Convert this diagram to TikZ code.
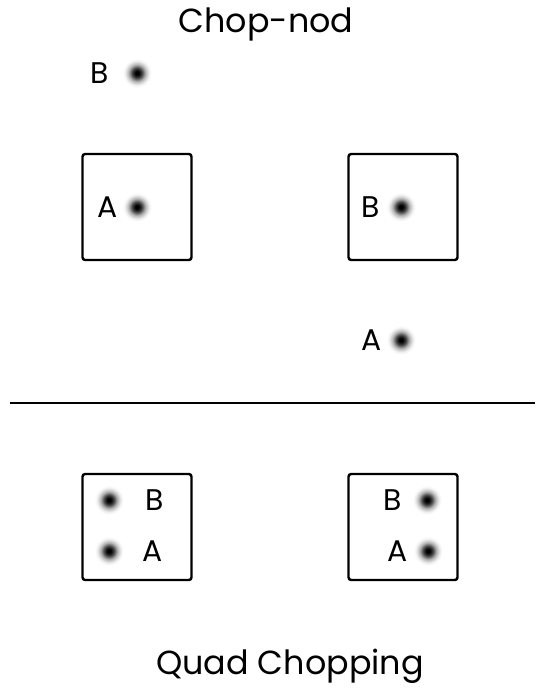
\documentclass[tikz,border=0pt]{standalone}
\usepackage{fontspec}
\setmainfont{Poppins}
\usetikzlibrary{positioning}
\pgfdeclareradialshading{blob}{\pgfpoint{0bp}{0bp}}{color(0bp)=(black); color(3bp)=(black); color(8bp)=(black!75); color(14bp)=(black!30); color(20bp)=(black!6); color(24bp)=(white); color(25bp)=(white)}
\tikzset{
  chopbox/.style={draw, line width=1.4pt, rounded corners=1.5pt, minimum width=2.18cm, minimum height=2.12cm, inner sep=0pt},
  beam/.style={circle, shading=blob, minimum size=6mm, inner sep=0pt},
  lbl/.style={inner sep=0pt, font=\fontsize{17}{19}\selectfont},
  heading/.style={font=\fontsize{19}{22}\selectfont},
  divider/.style={line width=1.3pt},
}

\begin{document}
\begin{tikzpicture}[x=0.02cm, y=-0.02cm]
  \useasboundingbox (0,0) rectangle (535,688);

  % Chop-nod
  \node[heading] (title1) at (266,24) {Chop-nod};

  \node[beam] (b0) at (137,73) {};
  \node[lbl, left=2.4mm of b0] (b0l) {B};

  \node[chopbox] (box1) at (137,207) {};
  \node[beam] (a1) at (137,207) {};
  \node[lbl, left=0.8mm of a1] (a1l) {A};

  \node[chopbox] (box2) at (403,207) {};
  \node[beam] (b2) at (401,207) {};
  \node[lbl, left=1.2mm of b2] (b2l) {B};

  \node[beam] (a3) at (401,340) {};
  \node[lbl, left=0.7mm of a3] (a3l) {A};

  % divider
  \coordinate (lineL) at (10,403);
  \coordinate (lineR) at (535,403);
  \draw[divider] (lineL) -- (lineR);

  % Quad Chopping
  \node[chopbox] (box3) at (137,527) {};
  \node[beam] (b4) at (109,500) {};
  \node[lbl, right=4.2mm of b4] (b4l) {B};
  \node[beam] (a4) at (109,551) {};
  \node[lbl, right=3.6mm of a4] (a4l) {A};

  \node[chopbox] (box4) at (403,527) {};
  \node[beam] (b5) at (427,500) {};
  \node[lbl, left=2mm of b5] (b5l) {B};
  \node[beam] (a5) at (428,551) {};
  \node[lbl, left=1mm of a5] (a5l) {A};

  \node[heading] (title2) at (290,666) {Quad Chopping};
\end{tikzpicture}
\end{document}
